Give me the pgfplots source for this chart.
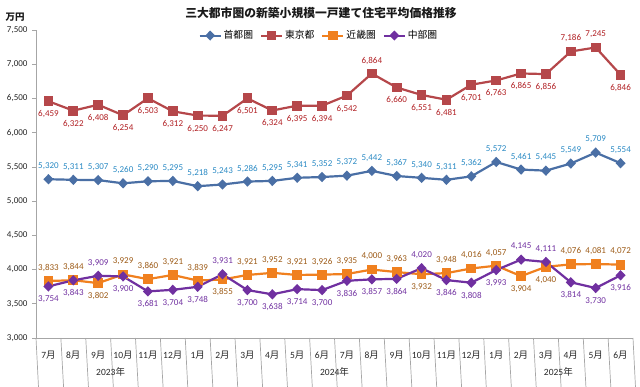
\documentclass[border=0pt]{standalone}
\usepackage{fontspec}
\setmainfont{Carlito}
\newfontfamily\jp{Noto Sans CJK JP}
\usepackage{pgfplots}
\pgfplotsset{compat=1.18}
\usepackage{pgfplotstable}
\definecolor{cblue}{HTML}{4A6FA5}
\definecolor{cbluet}{HTML}{2A8AC4}
\definecolor{cred}{HTML}{B5474A}
\definecolor{credt}{HTML}{B01E22}
\definecolor{corange}{HTML}{F0801F}
\definecolor{coranget}{HTML}{9C5A16}
\definecolor{cpurple}{HTML}{7030A0}
\definecolor{cgrid}{HTML}{A6A6A6}

\pgfplotstableread{
x y p
0 5320 1
1 5311 1
2 5307 1
3 5260 1
4 5290 1
5 5295 1
6 5218 1
7 5243 1
8 5286 1
9 5295 1
10 5341 1
11 5352 1
12 5372 1
13 5442 1
14 5367 1
15 5340 1
16 5311 1
17 5362 1
18 5572 1
19 5461 1
20 5445 1
21 5549 1
22 5709 1
23 5554 1
}\shuto

\pgfplotstableread{
x y p
0 6459 -1
1 6322 -1
2 6408 -1
3 6254 -1
4 6503 -1
5 6312 -1
6 6250 -1
7 6247 -1
8 6501 -1
9 6324 -1
10 6395 -1
11 6394 -1
12 6542 -1
13 6864 1
14 6660 -1
15 6551 -1
16 6481 -1
17 6701 -1
18 6763 -1
19 6865 -1
20 6856 -1
21 7186 1
22 7245 1
23 6846 -1
}\tokyo

\pgfplotstableread{
x y p
0 3833 1
1 3844 1
2 3802 -1
3 3929 1
4 3860 1
5 3921 1
6 3839 1
7 3855 -1
8 3921 1
9 3952 1
10 3921 1
11 3926 1
12 3935 1
13 4000 1
14 3963 1
15 3932 -1
16 3948 1
17 4016 1
18 4057 1
19 3904 -1
20 4040 -1
21 4076 1
22 4081 1
23 4072 1
}\kinki

\pgfplotstableread{
x y p
0 3754 -1
1 3843 -1
2 3909 1
3 3900 -1
4 3681 -1
5 3704 -1
6 3748 -1
7 3931 1
8 3700 -1
9 3638 -1
10 3714 -1
11 3700 -1
12 3836 -1
13 3857 -1
14 3864 -1
15 4020 1
16 3846 -1
17 3808 -1
18 3993 -1
19 4145 1
20 4111 1
21 3814 -1
22 3730 -1
23 3916 -1
}\chubu

\newcommand{\m}[1]{#1{\jp 月}}

\begin{document}
\begin{tikzpicture}
\useasboundingbox (0,0) rectangle (640pt,386pt);
\begin{axis}[
  at={(36pt,48pt)}, anchor=south west,
  scale only axis, width=597pt, height=308pt,
  xmin=-0.5, xmax=23.5, ymin=3000, ymax=7500,
  clip=false,
  axis lines*=left,
  axis line style={cgrid, line width=0.7pt},
  /pgf/number format/assume math mode=true,
  /pgf/number format/fixed,
  /pgf/number format/1000 sep={,},
  xtick={0,...,23},
  xticklabels={\m{7},\m{8},\m{9},\m{10},\m{11},\m{12},\m{1},\m{2},\m{3},\m{4},\m{5},\m{6},\m{7},\m{8},\m{9},\m{10},\m{11},\m{12},\m{1},\m{2},\m{3},\m{4},\m{5},\m{6}},
  x tick style={draw=none},
  xticklabel style={anchor=center, yshift=-13pt, font=\fontsize{9.5}{10}\selectfont, text=black!85},
  ytick={3000,3500,4000,4500,5000,5500,6000,6500,7000,7500},
  yticklabels={{3,000},{3,500},{4,000},{4,500},{5,000},{5,500},{6,000},{6,500},{7,000},{7,500}},
  y tick style={cgrid, line width=0.6pt},
  tick align=outside,
  major tick length=4pt,
  yticklabel style={font=\fontsize{9}{10}\selectfont, text=black!85, xshift=-1pt},
  legend style={at={(0.474,0.982)}, anchor=center, legend columns=-1, draw=none, fill=none,
    font=\jp\fontsize{9.8}{10}\selectfont, /tikz/every even column/.append style={column sep=5pt},
    legend cell align=left},
  legend image code/.code={\draw[mark repeat=2,mark phase=2,line width=2pt] plot coordinates {(0pt,0pt) (10.5pt,0pt) (21pt,0pt)};},
  nodes near coords,
  visualization depends on={\thisrow{p} \as \lp},
  every node near coord/.append style={font=\fontsize{9}{10}\selectfont, anchor=center, yshift=\lp*13pt},
]
\addplot[cblue, line width=2.2pt, mark=diamond*, mark size=3.6pt, mark options={xscale=1.3}, every node near coord/.append style={text=cbluet}] table[x=x,y=y] {\shuto};
\addlegendentry{首都圏}
\addplot[cred, line width=2.2pt, mark=square*, mark size=3.8pt, every node near coord/.append style={text=credt}] table[x=x,y=y] {\tokyo};
\addlegendentry{東京都}
\addplot[corange, line width=2.2pt, mark=square*, mark size=3.8pt, every node near coord/.append style={text=coranget}] table[x=x,y=y] {\kinki};
\addlegendentry{近畿圏}
\addplot[cpurple, line width=2.2pt, mark=diamond*, mark size=3.6pt, mark options={xscale=1.3}, every node near coord/.append style={text=cpurple}] table[x=x,y=y] {\chubu};
\addlegendentry{中部圏}

\pgfplotsinvokeforeach{0.5,1.5,2.5,3.5,4.5,6.5,7.5,8.5,9.5,10.5,11.5,12.5,13.5,14.5,15.5,16.5,18.5,19.5,20.5,21.5,22.5}{
  \draw[cgrid, line width=0.7pt] (axis cs:#1,3000) -- ++(0,-21pt);
}
\pgfplotsinvokeforeach{-0.5,5.5,17.5,23.5}{
  \draw[cgrid, line width=0.7pt] (axis cs:#1,3000) -- ++(0,-40pt);
}
\node[font=\fontsize{9.5}{10}\selectfont, text=black!85] at (axis cs:2.5,3000) [yshift=-34pt] {2023{\jp 年}};
\node[font=\fontsize{9.5}{10}\selectfont, text=black!85] at (axis cs:11.5,3000) [yshift=-34pt] {2024{\jp 年}};
\node[font=\fontsize{9.5}{10}\selectfont, text=black!85] at (axis cs:20.5,3000) [yshift=-34pt] {2025{\jp 年}};
\end{axis}
\node[font=\jp\bfseries\fontsize{11.8}{12}\selectfont, text=black!90] at (321pt,373pt) {三大都市圏の新築小規模一戸建て住宅平均価格推移};
\node[font=\jp\bfseries\fontsize{9.5}{10}\selectfont, text=black!90] at (15pt,369pt) {万円};
\end{tikzpicture}
\end{document}
